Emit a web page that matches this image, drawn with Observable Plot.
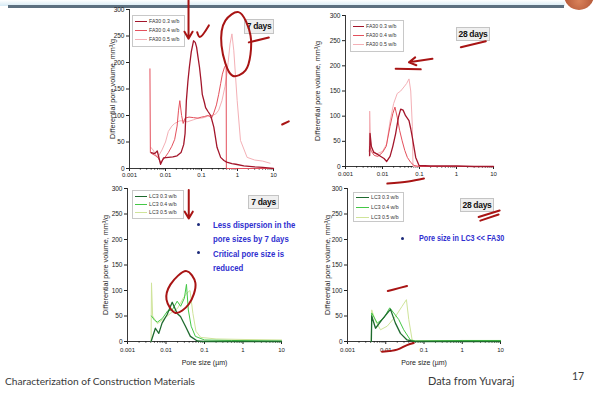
<!DOCTYPE html>
<html><head><meta charset="utf-8">
<script src="https://cdn.jsdelivr.net/npm/d3@7"></script>
<script src="https://cdn.jsdelivr.net/npm/@observablehq/plot@0.6"></script>
<style>
html,body{margin:0;padding:0;background:#fff;}
#slide{position:relative;width:597px;height:394px;overflow:hidden;background:#fff;font-family:"Liberation Sans",Arial,sans-serif;}
#slide svg{position:absolute;z-index:2;overflow:visible;}
.abs{position:absolute;white-space:nowrap;}
.legend{position:absolute;border:1px solid #c8c8c8;background:#fff;z-index:1;}
.legrow{position:absolute;font-size:5.2px;color:#333;line-height:6px;white-space:nowrap;}
.legline{position:absolute;height:0;}
.days{position:absolute;background:#efefef;border:1px solid #c4c4c4;font-weight:bold;font-size:8.5px;color:#111;text-align:center;z-index:1;white-space:nowrap;font-family:"Liberation Sans",Arial,sans-serif;letter-spacing:-0.3px;}
.note{position:absolute;color:#2f2fd0;font-weight:bold;font-size:9.5px;line-height:14px;font-family:"Liberation Sans",Arial,sans-serif;white-space:nowrap;z-index:1;transform-origin:0 50%;}
.bullet{position:absolute;width:3px;height:3px;border-radius:50%;background:#1c2a7a;z-index:1;}
.foot{position:absolute;font-family:Lato,"Open Sans",sans-serif;color:#3a3a3a;white-space:nowrap;}
</style></head><body><div id="slide"></div>
<script>
// ---- axis ticks / labels ----
const xTicks = [0.001, 0.01, 0.1, 1, 10];
const xTickLabels = ["0.001", "0.01", "0.1", "1", "10"];
const yTicks = [0, 50, 100, 150, 200, 250, 300];
const yTitle = "Differential pore volume, mm³/g";
const xTitle = "Pore size (µm)";
const wbLabels = ["0.3 w/b", "0.4 w/b", "0.5 w/b"];
const faColors = ["#a3162b", "#e4505c", "#f4b0b6"];
const lcColors = ["#1e6a2e", "#44c846", "#cfe49a"];
const inkColor = "#a81414";

// ---- FA30, 7 days ----
const fa7_03_x = [0.0040,0.0050,0.0059,0.0073,0.0088,0.012,0.016,0.021,0.027,0.032,0.035,0.038,0.042,0.046,0.052,0.060,0.067,0.073,0.080,0.088,0.097,0.105,0.12,0.13,0.15,0.18,0.22,0.27,0.34,0.42,0.5,0.7,0.9,1.5,3,5,7,10];
const fa7_03_y = [30,28,33,8,20,21,22,24,30,45,66,128,165,191,220,241,238,229,210,191,165,140,125,115,108,100,78,40,21,15,12,9,8,5,3,2,1,0];
const fa7_04_x = [0.0037,0.0038,0.0042,0.005,0.006,0.0073,0.009,0.012,0.015,0.018,0.021,0.023,0.025,0.028,0.031,0.035,0.045,0.06,0.08,0.10,0.12,0.15,0.17,0.19,0.22,0.26,0.30,0.34,0.38,0.43,0.47,0.485,0.49,1,3,10];
const fa7_04_y = [188,30,28,25,22,12,18,30,42,55,80,110,128,100,85,95,97,96,95,97,98,100,98,95,105,120,140,160,178,190,195,195,0,0,0,0];
const fa7_05_x = [0.0039,0.0045,0.006,0.008,0.01,0.012,0.015,0.018,0.022,0.025,0.03,0.04,0.06,0.08,0.1,0.13,0.16,0.2,0.25,0.3,0.37,0.45,0.5,0.55,0.62,0.7,0.79,0.98,1.21,1.85,3,5,8];
const fa7_05_y = [40,35,20,35,50,70,80,85,88,90,90,88,92,95,95,97,100,100,103,110,128,155,175,200,235,254,222,128,53,21,16,14,10];

// ---- FA30, 28 days ----
const fa28_03_x = [0.0045,0.0046,0.005,0.0058,0.007,0.009,0.011,0.013,0.016,0.019,0.0226,0.027,0.031,0.036,0.042,0.052,0.058,0.064,0.079,0.097,0.2,1,3,10];
const fa28_03_y = [22,66,40,28,25,20,16,10,20,40,65,98,114,112,101,91,75,58,18,2,1,1,0,0];
const fa28_04_x = [0.0044,0.0045,0.005,0.006,0.0075,0.01,0.0126,0.016,0.019,0.0217,0.025,0.029,0.034,0.04,0.047,0.058,0.071,0.1,1,10];
const fa28_04_y = [30,40,30,22,20,28,40,80,105,118,98,72,51,32,18,8,2,0,0,0];
const fa28_05_x = [0.0044,0.0045,0.0048,0.0055,0.007,0.01,0.013,0.016,0.02,0.025,0.031,0.038,0.045,0.052,0.058,0.064,0.0667,0.1,0.3,1,10];
const fa28_05_y = [20,110,40,32,25,30,45,90,125,145,150,158,165,174,150,80,0,0,0,0,0];

// ---- LC3, 7 days ----
const lc7_03_x = [0.0041,0.0053,0.0065,0.0079,0.0107,0.0145,0.0195,0.0238,0.032,0.043,0.065,0.1,1,10];
const lc7_03_y = [0,26,16,36,53,77,55,49,30,10,1,0,0,0];
const lc7_04_x = [0.0042,0.005,0.006,0.008,0.011,0.0145,0.0195,0.024,0.03,0.034,0.038,0.045,0.058,0.1,0.5,10];
const lc7_04_y = [50,42,38,45,60,62,79,69,85,112,62,30,10,3,2,1];
const lc7_05_x = [0.0041,0.0042,0.0045,0.006,0.009,0.013,0.02,0.028,0.035,0.042,0.05,0.06,0.08,0.2,1,10];
const lc7_05_y = [0,115,50,35,45,55,65,85,95,100,55,20,8,5,4,3];

// ---- LC3, 28 days ----
const lc28_03_x = [0.0042,0.0043,0.0054,0.008,0.012,0.0133,0.0179,0.0242,0.036,0.054,0.1,1,10];
const lc28_03_y = [0,50,26,43,59,63,36,16,3,0,0,0,0];
const lc28_04_x = [0.0042,0.0043,0.006,0.0089,0.0127,0.0162,0.0219,0.0295,0.044,0.06,1,10];
const lc28_04_y = [0,56,36,46,66,56,43,23,3,1,2,2];
const lc28_05_x = [0.0042,0.0043,0.0054,0.0073,0.0109,0.0179,0.0267,0.0347,0.04,0.049,0.06,1,10];
const lc28_05_y = [0,62,40,23,30,49,69,82,43,3,1,2,2];

// ---- hand-drawn ink annotations (data units) ----
const inkTL_check_x = [0.076,0.0898,0.16];
const inkTL_check_y = [257,248,270];
const inkTL_ellipse_x = [1.07,2.3,1.67,0.73,0.36,0.46];
const inkTL_ellipse_y = [295,251,185,175,232,279];
const inkTL_tail_x = [2.06,7.4];
const inkTL_tail_y = [238,247];
const inkTL_dash_x = [17.4,26.6];
const inkTL_dash_y = [83,89];
const inkTL_arrow = [0.0436, 317, 0.0436, 245];
const inkTR_arrow = [0.224, 214, 0.052, 207];
const inkTR_under_x = [0.0227,0.108];
const inkTR_under_y = [194,193];
const inkTR_days_x = [1.31,6.2];
const inkTR_days_y = [237,249];
const inkTR_below_x = [0.0135,0.05,0.132];
const inkTR_below_y = [-34,-30,-24];
const inkBL_arrow = [0.039, 297, 0.039, 241];
const inkBL_ellipse_x = [0.034,0.058,0.039,0.0177,0.0103,0.0131];
const inkBL_ellipse_y = [138,115,73,56,82,112];
const inkBR_scrib_x = [0.0113,0.0162,0.036];
const inkBR_scrib_y = [99,102,109];
const inkBR_below_x = [0.008,0.0199,0.036,0.054];
const inkBR_below_y = [-20,-16,-7,-3];
const inkBR_daysA_x = [2.68,9.5];
const inkBR_daysA_y = [244,257];
const inkBR_daysB_x = [2.97,8.9];
const inkBR_daysB_y = [237,249];

// ---- helpers ----
const pts = (xs, ys) => xs.map((x, i) => ({x, y: ys[i]}));
const slide = document.getElementById("slide");
const minorTicks = [];
xTicks.slice(0, -1).forEach(t => [2,3,4,5,6,7,8,9].forEach(k => minorTicks.push(t * k)));

function inkLine(xs, ys, closed) {
  return Plot.line(pts(xs, ys), {x: "x", y: "y", stroke: inkColor, strokeWidth: 2,
    curve: closed ? "catmull-rom-closed" : "catmull-rom", strokeLinecap: "round"});
}
function inkArrow(a) {
  return Plot.arrow([a], {x1: d => d[0], y1: d => d[1], x2: d => d[2], y2: d => d[3],
    stroke: inkColor, strokeWidth: 2, headLength: 6});
}

function addPanel(cfg) {
  const mL = 40, mR = 22, mT = 10, mB = 34;
  const W = cfg.fx1 - cfg.fx0 + mL + mR, H = cfg.fy1 - cfg.fy0 + mT + mB;
  const marks = [
    Plot.ruleX([xTicks[0]], {stroke: "#222", strokeWidth: 0.9}),
    Plot.ruleY([yTicks[0]], {stroke: "#222", strokeWidth: 0.9}),
    Plot.axisY({ticks: yTicks, tickSize: 3, tickPadding: 2, fontSize: 6.5, label: null}),
    Plot.axisX({ticks: xTicks, tickSize: 3, tickPadding: cfg.xPad, fontSize: 6, label: null,
      tickFormat: d => xTickLabels[xTicks.indexOf(d)]}),
    Plot.axisX({ticks: minorTicks, tickSize: 1.6, label: null, tickFormat: () => ""}),
    Plot.text([yTitle], {frameAnchor: "left", textAnchor: "middle", rotate: -90, dx: cfg.titleDx, fontSize: 7.2, fill: "#222"})
  ];
  if (cfg.showXTitle) marks.push(Plot.text([xTitle], {frameAnchor: "bottom", textAnchor: "middle", dy: 23, fontSize: 7, fill: "#222"}));
  cfg.series.slice().reverse().forEach((s, k) => {
    const i = cfg.series.length - 1 - k;
    marks.push(Plot.line(pts(s[0], s[1]), {x: "x", y: "y", stroke: cfg.colors[i], strokeWidth: i === 0 ? 1.3 : 1}));
  });
  marks.push(...cfg.ink);
  const p = Plot.plot({
    width: W, height: H, marginLeft: mL, marginRight: mR, marginTop: mT, marginBottom: mB,
    x: {type: "log", domain: [xTicks[0], xTicks[xTicks.length - 1]], label: null},
    y: {domain: [yTicks[0], yTicks[yTicks.length - 1]], label: null},
    style: {background: "transparent", color: "#222", fontFamily: "'Liberation Sans', Arial, sans-serif", overflow: "visible"},
    marks
  });
  p.style.left = (cfg.fx0 - mL) + "px";
  p.style.top = (cfg.fy0 - mT) + "px";
  slide.appendChild(p);
}

function addLegend(box, names, colors) {
  const d = document.createElement("div");
  d.className = "legend";
  Object.assign(d.style, {left: box[0] + "px", top: box[1] + "px", width: box[2] + "px", height: box[3] + "px"});
  names.forEach((n, i) => {
    const y = box[4] + i * box[5];
    const l = document.createElement("div");
    l.className = "legline";
    Object.assign(l.style, {left: "2px", top: y + "px", width: box[6] + "px", borderTop: (i === 0 ? 1.4 : 1) + "px solid " + colors[i]});
    d.appendChild(l);
    const t = document.createElement("div");
    t.className = "legrow";
    t.textContent = n;
    Object.assign(t.style, {left: (box[6] + 4) + "px", top: (y - 3) + "px"});
    d.appendChild(t);
  });
  slide.appendChild(d);
}
function addDiv(cls, html, st) {
  const d = document.createElement("div");
  d.className = cls;
  d.innerHTML = html;
  Object.assign(d.style, st);
  slide.appendChild(d);
  return d;
}

// header bar and logo
addDiv("abs", "", {left: "0px", top: "0px", width: "565px", height: "6px", background: "linear-gradient(#ffffff,#d7ebf5)"});
addDiv("abs", "", {left: "8px", top: "5px", width: "556px", height: "3px", background: "#5d7080"});
addDiv("abs", "", {left: "564px", top: "-20px", width: "30px", height: "30px", borderRadius: "50%", background: "radial-gradient(circle at 50% 70%, #d9825a, #9a3a20)"});

// panels
addPanel({fx0: 129, fx1: 273, fy0: 9, fy1: 168, titleDx: -17, xPad: 1, showXTitle: false, colors: faColors,
  series: [[fa7_03_x, fa7_03_y], [fa7_04_x, fa7_04_y], [fa7_05_x, fa7_05_y]],
  ink: [inkArrow(inkTL_arrow), inkLine(inkTL_check_x, inkTL_check_y), inkLine(inkTL_ellipse_x, inkTL_ellipse_y, true),
        inkLine(inkTL_tail_x, inkTL_tail_y), inkLine(inkTL_dash_x, inkTL_dash_y)]});
addPanel({fx0: 345, fx1: 493, fy0: 15, fy1: 166, titleDx: -28, xPad: 2, showXTitle: false, colors: faColors,
  series: [[fa28_03_x, fa28_03_y], [fa28_04_x, fa28_04_y], [fa28_05_x, fa28_05_y]],
  ink: [inkArrow(inkTR_arrow), inkLine(inkTR_under_x, inkTR_under_y), inkLine(inkTR_days_x, inkTR_days_y),
        inkLine(inkTR_below_x, inkTR_below_y)]});
addPanel({fx0: 127, fx1: 281, fy0: 188, fy1: 341, titleDx: -22, xPad: 3, showXTitle: true, colors: lcColors,
  series: [[lc7_03_x, lc7_03_y], [lc7_04_x, lc7_04_y], [lc7_05_x, lc7_05_y]],
  ink: [inkArrow(inkBL_arrow), inkLine(inkBL_ellipse_x, inkBL_ellipse_y, true)]});
addPanel({fx0: 347, fx1: 500, fy0: 188, fy1: 341, titleDx: -20, xPad: 3, showXTitle: true, colors: lcColors,
  series: [[lc28_03_x, lc28_03_y], [lc28_04_x, lc28_04_y], [lc28_05_x, lc28_05_y]],
  ink: [inkLine(inkBR_scrib_x, inkBR_scrib_y), inkLine(inkBR_below_x, inkBR_below_y),
        inkLine(inkBR_daysA_x, inkBR_daysA_y), inkLine(inkBR_daysB_x, inkBR_daysB_y)]});

// legends: [left, top, width, height, firstRowY, rowGap, lineLen]
addLegend([132, 15, 51, 30, 5, 9, 12], wbLabels.map(w => "FA30 " + w), faColors);
addLegend([350, 20, 52, 30, 5, 9, 11], wbLabels.map(w => "FA30 " + w), faColors);
addLegend([132, 190, 50, 27, 5, 8, 12], wbLabels.map(w => "LC3 " + w), lcColors);
addLegend([353, 192, 49, 28, 4, 10, 13], wbLabels.map(w => "LC3 " + w), lcColors);

// day tags
addDiv("days", "7 days", {left: "244px", top: "19px", width: "28px", height: "13px", lineHeight: "13px"});
addDiv("days", "28 days", {left: "456px", top: "27px", width: "32px", height: "12px", lineHeight: "12px"});
addDiv("days", "7 days", {left: "248px", top: "195px", width: "29px", height: "12px", lineHeight: "12px"});
addDiv("days", "28 days", {left: "460px", top: "198px", width: "32px", height: "12px", lineHeight: "12px"});

// notes
addDiv("bullet", "", {left: "197px", top: "223px"});
addDiv("note", "Less dispersion in the<br>pore sizes by 7 days", {left: "213px", top: "218px", transform: "scaleX(0.82)"});
addDiv("bullet", "", {left: "197px", top: "251px"});
addDiv("note", "Critical pore size is<br>reduced", {left: "213px", top: "247px", transform: "scaleX(0.82)"});
addDiv("bullet", "", {left: "401px", top: "237px"});
addDiv("note", "Pore size in LC3 &lt;&lt; FA30", {left: "419px", top: "231px", fontSize: "9px", transform: "scaleX(0.8)"});

// footer
addDiv("foot", "Characterization of Construction Materials", {left: "5px", top: "375px", fontSize: "10.2px", lineHeight: "12px"});
addDiv("foot", "Data from Yuvaraj", {left: "428px", top: "374px", fontSize: "11px", lineHeight: "13px"});
addDiv("foot", "17", {left: "572px", top: "370px", fontSize: "10.5px", lineHeight: "13px"});
</script></body></html>
